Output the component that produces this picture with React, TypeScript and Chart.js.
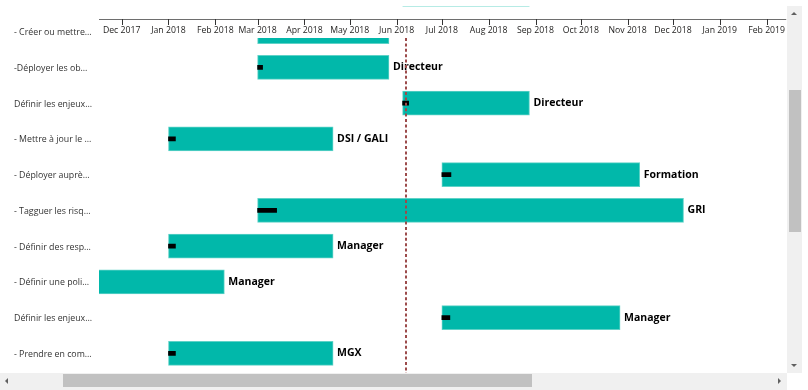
import React, { useEffect, useRef } from "react";
import { Chart, registerables } from "chart.js";

Chart.register(...registerables);

// ---- data ----
const taskLabels = [
  "- Créer ou mettre…",
  "-Déployer les ob…",
  "Définir les enjeux…",
  "- Mettre à jour le …",
  "- Déployer auprè…",
  "- Tagguer les risq…",
  "- Définir des resp…",
  "- Définir une poli…",
  "Définir les enjeux…",
  "- Prendre en com…",
];
const startDates = [
  "2018-03-01", "2018-03-01", "2018-06-05", "2018-01-01", "2018-07-01",
  "2018-03-01", "2018-01-01", "2017-10-02", "2018-07-01", "2018-01-01",
];
const endDates = [
  "2018-05-27", "2018-05-27", "2018-08-28", "2018-04-20", "2018-11-09",
  "2018-12-08", "2018-04-20", "2018-02-07", "2018-10-27", "2018-04-20",
];
const progressDays = [3, 3.3, 4, 4.6, 6, 12.6, 4.6, 5, 5.3, 4.6];
const resources = [
  "", "Directeur", "Directeur", "DSI / GALI", "Formation",
  "GRI", "Manager", "Manager", "Manager", "MGX",
];
const monthTicks = [
  "2017-12-01", "2018-01-01", "2018-02-01", "2018-03-01", "2018-04-01",
  "2018-05-01", "2018-06-01", "2018-07-01", "2018-08-01", "2018-09-01",
  "2018-10-01", "2018-11-01", "2018-12-01", "2019-01-01", "2019-02-01",
];
const monthLabels = [
  "Dec 2017", "Jan 2018", "Feb 2018", "Mar 2018", "Apr 2018",
  "May 2018", "Jun 2018", "Jul 2018", "Aug 2018", "Sep 2018",
  "Oct 2018", "Nov 2018", "Dec 2018", "Jan 2019", "Feb 2019",
];
const todayDate = "2018-06-07";
const viewStart = "2017-11-16";
const viewEnd = "2019-02-14";
const rowViewMin = 0.18;
const rowViewMax = 9.55;

const day = (s: string) => Date.parse(s + "T00:00:00Z") / 86400000;

const FONT = "'Open Sans', 'Noto Sans', sans-serif";
const TEAL = "#01B8AA";

export default function App() {
  const ref = useRef<HTMLCanvasElement | null>(null);

  useEffect(() => {
    document.body.style.margin = "0";
    const canvas = ref.current;
    if (!canvas) return;

    const decor = {
      id: "ganttDecor",
      afterDatasetsDraw(chart: any) {
        const { ctx, chartArea, scales } = chart;
        const xs = scales.x;
        const ys = scales.y;
        ctx.save();
        ctx.beginPath();
        ctx.rect(chartArea.left, chartArea.top, chartArea.right - chartArea.left, chartArea.bottom - chartArea.top);
        ctx.clip();
        // resource labels
        ctx.fillStyle = "#000";
        ctx.font = `bold 10.5px ${FONT}`;
        ctx.textBaseline = "middle";
        ctx.textAlign = "left";
        resources.forEach((r, i) => {
          if (!r) return;
          const x = xs.getPixelForValue(day(endDates[i])) + 4;
          const y = ys.getPixelForValue(i);
          ctx.fillText(r, x, y);
        });
        // today line
        const tx = Math.round(xs.getPixelForValue(day(todayDate)));
        ctx.strokeStyle = "#9c4b4b";
        ctx.lineWidth = 2;
        ctx.setLineDash([3, 2.4]);
        ctx.beginPath();
        ctx.moveTo(tx, chartArea.top);
        ctx.lineTo(tx, chartArea.bottom);
        ctx.stroke();
        ctx.restore();
      },
      afterDraw(chart: any) {
        const { ctx, chartArea, scales } = chart;
        const xs = scales.x;
        const ys = scales.y;
        ctx.save();
        // axis line
        ctx.strokeStyle = "#6e6e6e";
        ctx.lineWidth = 1;
        ctx.beginPath();
        ctx.moveTo(chartArea.left, 19.5);
        ctx.lineTo(chartArea.right, 19.5);
        ctx.stroke();
        // tick marks
        ctx.strokeStyle = "#333";
        monthTicks.forEach((m) => {
          const x = Math.round(xs.getPixelForValue(day(m))) + 0.5;
          ctx.beginPath();
          ctx.moveTo(x, 19);
          ctx.lineTo(x, 25);
          ctx.stroke();
        });
        // thin highlight line at the top
        ctx.strokeStyle = "#b6ebe5";
        ctx.beginPath();
        ctx.moveTo(xs.getPixelForValue(day(startDates[2])), 6.5);
        ctx.lineTo(xs.getPixelForValue(day(endDates[2])), 6.5);
        ctx.stroke();
        // task labels
        ctx.fillStyle = "#333";
        ctx.font = `8.8px ${FONT}`;
        ctx.textBaseline = "middle";
        ctx.textAlign = "left";
        taskLabels.forEach((t, i) => {
          ctx.fillText(t, 14, ys.getPixelForValue(i) + 1);
        });
        ctx.restore();
      },
    };

    const chart = new Chart(canvas, {
      type: "bar",
      data: {
        datasets: [
          {
            label: "progress",
            data: startDates.map((s, i) => ({ x: [day(s), day(s) + progressDays[i]], y: i })),
            backgroundColor: "#000",
            barThickness: 4,
            grouped: false,
            order: 0,
            clip: 0,
          } as any,
          {
            label: "tasks",
            data: startDates.map((s, i) => ({ x: [day(s), day(endDates[i])], y: i })),
            backgroundColor: TEAL,
            borderColor: "#5fd2c7",
            borderWidth: 1,
            borderSkipped: false,
            barThickness: 24,
            grouped: false,
            order: 1,
            clip: 0,
          } as any,
        ],
      },
      options: {
        indexAxis: "y",
        animation: false,
        responsive: false,
        layout: { padding: 0 },
        plugins: { legend: { display: false }, tooltip: { enabled: false } },
        scales: {
          x: {
            type: "linear",
            position: "top",
            offset: false,
            min: day(viewStart),
            max: day(viewEnd),
            grid: { display: false, drawTicks: false },
            border: { display: false },
            afterBuildTicks: (scale: any) => {
              scale.ticks = monthTicks.map((m) => ({ value: day(m) }));
            },
            afterFit: (scale: any) => {
              scale.height = 38;
            },
            ticks: {
              autoSkip: false,
              maxRotation: 0,
              padding: 2,
              color: "#252423",
              font: { family: FONT, size: 8.7 },
              callback: (_v: any, i: number) => monthLabels[i],
            },
          },
          y: {
            type: "linear",
            reverse: true,
            offset: false,
            min: rowViewMin,
            max: rowViewMax,
            grid: { display: false, drawTicks: false },
            border: { display: false },
            ticks: { display: false },
            afterFit: (scale: any) => {
              scale.width = 99;
            },
          },
        },
      } as any,
      plugins: [decor],
    });
    return () => chart.destroy();
  }, []);

  const tri = (dir: "up" | "down" | "left" | "right", left: number, top: number) => {
    const s: React.CSSProperties = { position: "absolute", left, top, width: 0, height: 0 };
    const c = "#606060";
    if (dir === "up") Object.assign(s, { borderLeft: "3px solid transparent", borderRight: "3px solid transparent", borderBottom: `3px solid ${c}` });
    if (dir === "down") Object.assign(s, { borderLeft: "3px solid transparent", borderRight: "3px solid transparent", borderTop: `3px solid ${c}` });
    if (dir === "left") Object.assign(s, { borderTop: "3px solid transparent", borderBottom: "3px solid transparent", borderRight: `3px solid ${c}` });
    if (dir === "right") Object.assign(s, { borderTop: "3px solid transparent", borderBottom: "3px solid transparent", borderLeft: `3px solid ${c}` });
    return <div style={s} />;
  };

  return (
    <div style={{ position: "relative", width: 808, height: 390, background: "#fff", overflow: "hidden" }}>
      <canvas ref={ref} width={787} height={373} style={{ position: "absolute", left: 0, top: 0 }} />
      {/* vertical scrollbar */}
      <div style={{ position: "absolute", left: 787, top: 6, width: 15, height: 367, background: "#f0f0f0" }} />
      <div style={{ position: "absolute", left: 789, top: 90, width: 12, height: 142, background: "#c1c1c1" }} />
      {tri("up", 791, 12)}
      {tri("down", 791, 364)}
      {/* horizontal scrollbar */}
      <div style={{ position: "absolute", left: 0, top: 373, width: 787, height: 17, background: "#f0f0f0" }} />
      <div style={{ position: "absolute", left: 63, top: 374, width: 469, height: 13, background: "#c1c1c1" }} />
      {tri("left", 5, 378)}
      {tri("right", 778, 378)}
    </div>
  );
}
